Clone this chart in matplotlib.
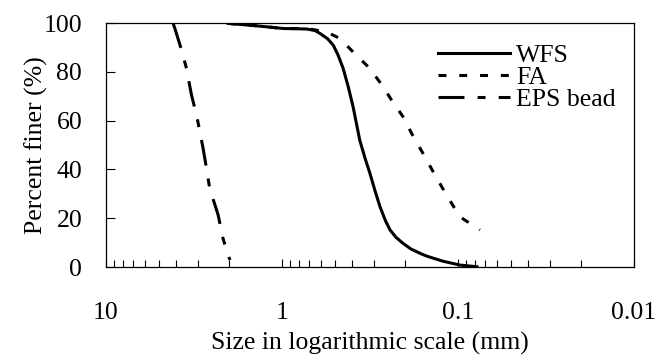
import matplotlib
matplotlib.use('Agg')
import matplotlib.pyplot as plt
from matplotlib.ticker import FixedLocator, LogLocator, NullFormatter

plt.rcParams['font.family'] = ['Liberation Serif', 'DejaVu Serif']

# Grain size distribution curves (size in mm, percent finer)
wfs_size = [2.02, 1.39, 0.98, 0.724, 0.65, 0.608, 0.55, 0.511, 0.48, 0.449, 0.42,
            0.394, 0.361, 0.335, 0.316, 0.295, 0.277, 0.258, 0.243, 0.225, 0.205,
            0.185, 0.164, 0.151, 0.122, 0.0975, 0.078]
wfs_pct = [99.9, 98.9, 97.8, 97.6, 97.0, 95.8, 93.6, 91.0, 87.0, 81.5, 74.0,
           65.7, 52.0, 44.0, 38.4, 31.0, 24.7, 19.0, 15.2, 12.2, 9.7,
           7.4, 5.6, 4.5, 2.4, 0.8, 0.1]

fa_size = [2.02, 1.39, 0.98, 0.724, 0.557, 0.468, 0.394, 0.316, 0.266, 0.238,
           0.205, 0.179, 0.154, 0.135, 0.116, 0.0975, 0.075]
fa_pct = [99.9, 98.9, 97.8, 97.8, 96.4, 93.7, 88.2, 81.4, 73.9, 68.4,
          61.6, 53.4, 45.2, 37.7, 29.5, 20.6, 15.2]

eps_size = [4.15, 4.05, 3.71, 3.48, 3.26, 3.05, 2.80, 2.68, 2.57, 2.30, 2.16, 2.02, 1.97]
eps_pct = [100, 97.8, 88.9, 81.4, 70.5, 62.3, 48.6, 40.5, 32.3, 21.3, 11.8, 4.9, 2.9]

x_ticks = [10, 1, 0.1, 0.01]
x_labels = ['10', '1', '0.1', '0.01']
y_ticks = [0, 20, 40, 60, 80, 100]

fs = 18.5
fig = plt.figure(figsize=(6.57, 3.56), dpi=100)
ax = fig.add_axes([0.161, 0.25, 0.804, 0.685])

ax.plot(wfs_size, wfs_pct, color='black', lw=2.2, label='WFS')
ax.plot(fa_size, fa_pct, color='black', lw=2.2, dashes=(2.6, 4.2), label='FA')
ax.plot(eps_size, eps_pct, color='black', lw=2.2, dashes=(8.5, 4.3, 2.6, 4.3), label='EPS bead')

ax.set_xscale('log')
ax.set_xlim(10, 0.01)
ax.set_ylim(0, 100)

ax.xaxis.set_major_locator(FixedLocator(x_ticks))
ax.set_xticklabels(x_labels)
ax.xaxis.set_minor_locator(LogLocator(base=10, subs=range(2, 10), numticks=20))
ax.xaxis.set_minor_formatter(NullFormatter())
ax.set_yticks(y_ticks)

ax.tick_params(axis='x', which='major', direction='in', length=6, width=0.8,
               pad=25, labelsize=fs)
ax.tick_params(axis='x', which='minor', direction='in', length=5, width=0.8)
ax.tick_params(axis='y', which='major', direction='in', length=6.5, width=0.8,
               pad=17, labelsize=fs)
for sp in ax.spines.values():
    sp.set_linewidth(0.9)

ax.set_xlabel('Size in logarithmic scale (mm)', fontsize=fs)
ax.set_ylabel('Percent finer (%)', fontsize=fs)
ax.xaxis.set_label_coords(0.5, -0.265)
ax.yaxis.set_label_coords(-0.11, 0.5)

ax.legend(loc='upper right', bbox_to_anchor=(0.985, 0.955), frameon=False,
          fontsize=fs, handlelength=2.8, handletextpad=0.25, labelspacing=-0.05,
          borderaxespad=0)

fig.savefig('out.png', dpi=100)
